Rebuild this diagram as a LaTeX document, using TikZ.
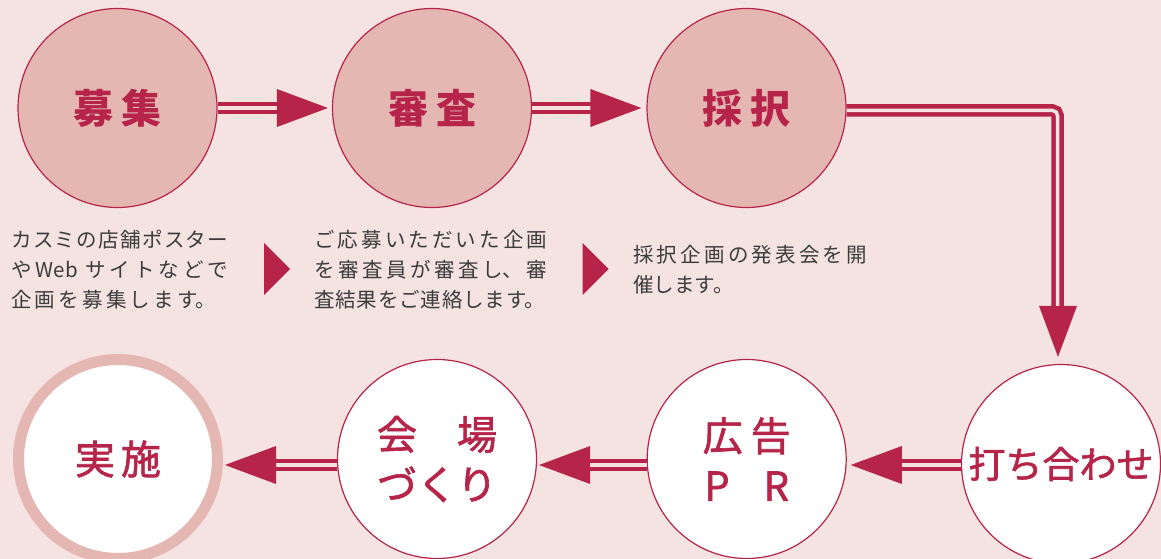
\documentclass[tikz,border=0pt]{standalone}
\usepackage{fontspec}
\setmainfont{Noto Sans CJK JP}
\newfontfamily\jpmid{Noto Sans CJK JP}[FakeBold=1.6]
\XeTeXlinebreaklocale "ja"
\XeTeXlinebreakskip=0pt plus 3pt
\usetikzlibrary{positioning}
\usetikzlibrary{calc}

\definecolor{bgpink}{HTML}{F5E3E2}
\definecolor{rosefill}{HTML}{E4B7B3}
\definecolor{crimson}{HTML}{B62449}
\definecolor{bodygray}{HTML}{3C3C3C}

\tikzset{
        stepcircle/.style={circle,minimum size=199pt,inner sep=0pt,
            draw=crimson,line width=1.2pt,text=crimson,align=center},
        donestep/.style={stepcircle,fill=rosefill,
            font=\fontsize{40}{48}\selectfont\bfseries},
        nextstep/.style={stepcircle,fill=white,
            font=\fontsize{40}{50}\selectfont\jpmid},
        laststep/.style={nextstep,draw=rosefill,line width=11pt},
        dblline/.style={draw=crimson,line width=4.5pt,
            double=bgpink,double distance=3.5pt},
        note/.style={anchor=west,inner sep=0pt,align=justify,text=bodygray,
            font=\fontsize{20.5}{30}\selectfont}
}

\begin{document}
\begin{tikzpicture}[x=1pt,y=-1pt]
        % Background
        \fill [bgpink] (0,0) rectangle (1161,559);
        \useasboundingbox (0,0) rectangle (1161,559);
        % Upper row
        \node [donestep] (bosyu) at (117.5,108) {募\hspace{8pt}集};
        \node [donestep] (shinsa) at (432,108) {審\hspace{8pt}査};
        \node [donestep] (saitaku) at (746.5,108) {採\hspace{8pt}択};
        % Lower row
        \node [nextstep] (uchiawase) at (1061,464)
            {\fontsize{37}{40}\selectfont 打ち合わせ};
        \node [nextstep] (kokoku) at (746.7,459) {広\hspace{8pt}告\\P\hspace{34pt}R};
        \node [nextstep] (kaijo) at (437,459) {会　場\\づくり};
        \node [laststep] (jisshi) at (118,459) {実\hspace{6pt}施};
        % Notes
        \node [note,text width=217pt] (note1) at (11,270)
            {\parfillskip=0pt カスミの店舗ポスター\linebreak
             やWeb サイトなどで\linebreak
             企画を募集します。\hspace*{12pt}\par};
        \node [note,text width=233pt] (note2) at (314,270)
            {\parfillskip=0pt ご応募いただいた企画\linebreak
             を審査員が審査し、審\linebreak
             査結果をご連絡します。\hspace*{2pt}\par};
        \node [note,text width=234pt] (note3) at (633,270)
            {\parfillskip=0pt 採択企画の発表会を開\linebreak
             催します。\hspace*{\fill}\par};
        \fill [crimson] (264,243) -- (290,269) -- (264,295) -- cycle;
        \fill [crimson] (582.5,243) -- (608.5,269) -- (582.5,295) -- cycle;
        % Connectors
        \draw [dblline] (bosyu.east) -- ([xshift=-53pt]shinsa.west);
        \fill [crimson] ([xshift=-4pt]shinsa.west) -- ++(-51,-19) -- ++(0,38) -- cycle;
        \draw [dblline] (shinsa.east) -- ([xshift=-54pt]saitaku.west);
        \fill [crimson] ([xshift=-5pt]saitaku.west) -- ++(-51,-19) -- ++(0,38) -- cycle;
        \draw [dblline,rounded corners=5pt] ([yshift=-2.5pt]saitaku.east)
            -| ([xshift=-3.5pt,yshift=57pt]uchiawase.north);
        \fill [crimson] ([xshift=-3pt,yshift=7pt]uchiawase.north) -- ++(-19,-51) -- ++(38,0) -- cycle;
        \draw [dblline] ([yshift=-1pt]uchiawase.west) -- ([xshift=53pt,yshift=-6pt]kokoku.east);
        \fill [crimson] ([xshift=4pt,yshift=-6pt]kokoku.east) -- ++(51,-19) -- ++(0,38) -- cycle;
        \draw [dblline] ([yshift=-6pt]kokoku.west) -- ([xshift=51pt,yshift=-6pt]kaijo.east);
        \fill [crimson] ([xshift=2pt,yshift=-6pt]kaijo.east) -- ++(51,-19) -- ++(0,38) -- cycle;
        \draw [dblline] ([yshift=-6pt]kaijo.west) -- ([xshift=51pt,yshift=-6pt]jisshi.east);
        \fill [crimson] ([xshift=2pt,yshift=-6pt]jisshi.east) -- ++(51,-19) -- ++(0,38) -- cycle;
\end{tikzpicture}
\end{document}
